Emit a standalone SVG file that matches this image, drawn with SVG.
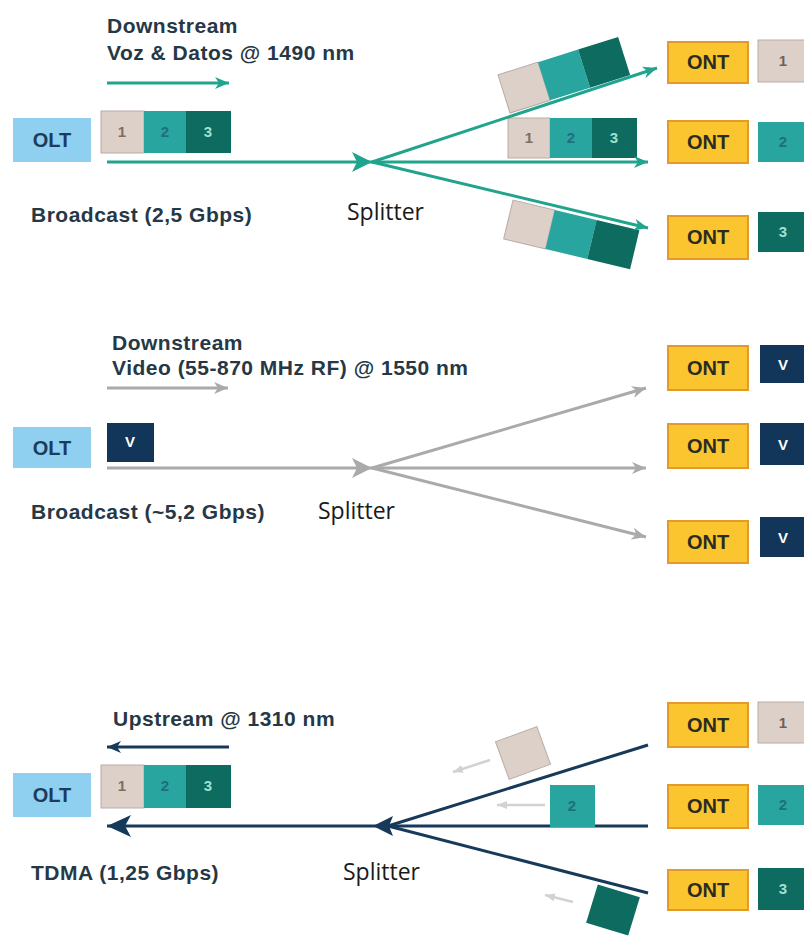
<svg xmlns="http://www.w3.org/2000/svg" width="804" height="937" viewBox="0 0 804 937">
<style>
.lbl{font-family:"Liberation Sans",Arial,sans-serif;font-weight:bold;font-size:21px;letter-spacing:0.5px;fill:#263845}
.spl{font-family:"Open Sans","Liberation Sans",sans-serif;font-size:23px;fill:#1a1a1a}
.olt{fill:#8fcff0}
.oltt{font-family:"Liberation Sans",Arial,sans-serif;font-weight:bold;font-size:20px;fill:#1d3c5a;text-anchor:middle}
.ont{fill:#fbc52f;stroke:#e39a2c;stroke-width:2}
.ontt{font-family:"Liberation Sans",Arial,sans-serif;font-weight:bold;font-size:20px;fill:#2b2b22;text-anchor:middle}
.p1{fill:#ddd0c9;stroke:#b9aca5;stroke-width:1}
.p2{fill:#28a59e}
.p3{fill:#0d6b60}
.pv{fill:#12365a}
.num{font-family:"Liberation Sans",Arial,sans-serif;font-size:15px;font-weight:bold;text-anchor:middle}
.teal{stroke:#20a48e;stroke-width:3;fill:none}
.gray{stroke:#aaaaaa;stroke-width:3;fill:none}
.navy{stroke:#173a5a;stroke-width:3;fill:none}
.faint{stroke:#d2d2d2;stroke-width:2.5;fill:none}
</style>
<defs>
<marker id="aT" markerUnits="userSpaceOnUse" markerWidth="14" markerHeight="12" refX="14" refY="6" orient="auto"><path d="M0,0 L14,6 L0,12 L4,6 z" fill="#20a48e"/></marker>
<marker id="aG" markerUnits="userSpaceOnUse" markerWidth="14" markerHeight="12" refX="14" refY="6" orient="auto"><path d="M0,0 L14,6 L0,12 L4,6 z" fill="#aaaaaa"/></marker>
<marker id="aN" markerUnits="userSpaceOnUse" markerWidth="14" markerHeight="12" refX="14" refY="6" orient="auto"><path d="M0,0 L14,6 L0,12 L4,6 z" fill="#173a5a"/></marker>
<marker id="aNb" markerUnits="userSpaceOnUse" markerWidth="24" markerHeight="22" refX="24" refY="11" orient="auto"><path d="M0,0 L24,11 L0,22 L6,11 z" fill="#173a5a"/></marker>
<marker id="aF" markerUnits="userSpaceOnUse" markerWidth="10" markerHeight="8" refX="10" refY="4" orient="auto"><path d="M0,0 L10,4 L0,8 z" fill="#d2d2d2"/></marker>
</defs>
<rect width="804" height="937" fill="#ffffff"/>

<!-- ===== Section 1: Downstream voz & datos ===== -->
<g id="s1-labels">
<text class="lbl" x="107" y="33">Downstream</text>
<text class="lbl" x="107" y="60">Voz &amp; Datos @ 1490 nm</text>
<text class="lbl" x="31" y="222">Broadcast (2,5 Gbps)</text>
<text class="spl" x="347" y="220">Splitter</text>
</g>
<g id="s1-olt"><rect class="olt" x="13" y="118" width="78" height="44"/><text class="oltt" x="52" y="147">OLT</text></g>
<g id="s1-packets">
<rect class="p1" x="101" y="111" width="43" height="42"/><text class="num" x="122" y="137" fill="#7d6e66">1</text>
<rect class="p2" x="144" y="111" width="42" height="42"/><text class="num" x="165" y="137" fill="#1f6f7e">2</text>
<rect class="p3" x="186" y="111" width="45" height="42"/><text class="num" x="208" y="137" fill="#9fe0d4">3</text>
</g>
<g id="s1-packets-up" transform="translate(510,113) rotate(-17.5)">
<rect class="p1" x="0" y="-40" width="42" height="40"/>
<rect class="p2" x="42" y="-40" width="42" height="40"/>
<rect class="p3" x="84" y="-40" width="42" height="40"/>
</g>
<g id="s1-packets-mid">
<rect class="p1" x="508" y="118" width="42" height="40"/><text class="num" x="529" y="143" fill="#7d6e66">1</text>
<rect class="p2" x="550" y="118" width="42" height="40"/><text class="num" x="571" y="143" fill="#1f6f7e">2</text>
<rect class="p3" x="592" y="118" width="45" height="40"/><text class="num" x="614" y="143" fill="#9fe0d4">3</text>
</g>
<g id="s1-packets-low" transform="translate(513,200) rotate(13.5)">
<rect class="p1" x="0" y="0" width="43" height="40"/>
<rect class="p2" x="43" y="0" width="43" height="40"/>
<rect class="p3" x="86" y="0" width="44" height="40"/>
</g>
<g id="s1-connectors">
<line class="teal" x1="107" y1="83" x2="229" y2="83" marker-end="url(#aT)" stroke-width="2.5"/>
<line class="teal" x1="107" y1="162" x2="372" y2="162"/>
<polygon points="352,152 372,162 352,172 357,162" fill="#20a48e"/>
<line class="teal" x1="372" y1="162" x2="657" y2="68" marker-end="url(#aT)"/>
<line class="teal" x1="372" y1="162" x2="648" y2="162" marker-end="url(#aT)"/>
<line class="teal" x1="372" y1="162" x2="648" y2="228" marker-end="url(#aT)"/>
</g>
<g id="s1-ont1"><rect class="ont" x="668" y="42" width="80" height="41"/><text class="ontt" x="708" y="69">ONT</text>
<rect class="p1" x="758" y="40" width="50" height="42"/><text class="num" x="783" y="66" fill="#6e605a">1</text></g>
<g id="s1-ont2"><rect class="ont" x="668" y="121" width="80" height="42"/><text class="ontt" x="708" y="149">ONT</text>
<rect class="p2" x="758" y="122" width="50" height="40"/><text class="num" x="783" y="147" fill="#1f6f7e">2</text></g>
<g id="s1-ont3"><rect class="ont" x="668" y="216" width="80" height="43"/><text class="ontt" x="708" y="244">ONT</text>
<rect class="p3" x="758" y="212" width="50" height="40"/><text class="num" x="783" y="237" fill="#9fe0d4">3</text></g>

<!-- ===== Section 2: Downstream video ===== -->
<g id="s2-labels">
<text class="lbl" x="112" y="350">Downstream</text>
<text class="lbl" x="112" y="375">Video (55-870 MHz RF) @ 1550 nm</text>
<text class="lbl" x="31" y="519">Broadcast (~5,2 Gbps)</text>
<text class="spl" x="318" y="519">Splitter</text>
</g>
<g id="s2-olt"><rect class="olt" x="13" y="427" width="78" height="41"/><text class="oltt" x="52" y="455">OLT</text></g>
<g id="s2-v"><rect class="pv" x="107" y="423" width="47" height="39"/><text class="num" x="130" y="447" fill="#ffffff">V</text></g>
<g id="s2-connectors">
<line class="gray" x1="107" y1="388" x2="228" y2="388" marker-end="url(#aG)" stroke-width="2.5"/>
<line class="gray" x1="107" y1="468" x2="372" y2="468"/>
<polygon points="352,458 372,468 352,478 357,468" fill="#aaaaaa"/>
<line class="gray" x1="372" y1="468" x2="646" y2="388" marker-end="url(#aG)"/>
<line class="gray" x1="372" y1="468" x2="646" y2="468" marker-end="url(#aG)"/>
<line class="gray" x1="372" y1="468" x2="646" y2="537" marker-end="url(#aG)"/>
</g>
<g id="s2-ont1"><rect class="ont" x="668" y="346" width="80" height="44"/><text class="ontt" x="708" y="375">ONT</text>
<rect class="pv" x="760" y="345" width="48" height="38"/><text class="num" x="783" y="370" fill="#ffffff">V</text></g>
<g id="s2-ont2"><rect class="ont" x="668" y="424" width="80" height="44"/><text class="ontt" x="708" y="453">ONT</text>
<rect class="pv" x="760" y="423" width="48" height="42"/><text class="num" x="783" y="450" fill="#ffffff">V</text></g>
<g id="s2-ont3"><rect class="ont" x="668" y="521" width="80" height="42"/><text class="ontt" x="708" y="549">ONT</text>
<rect class="pv" x="760" y="517" width="48" height="40"/><text class="num" x="783" y="543" fill="#ffffff">V</text></g>

<!-- ===== Section 3: Upstream ===== -->
<g id="s3-labels">
<text class="lbl" x="113" y="726">Upstream @ 1310 nm</text>
<text class="lbl" x="31" y="880">TDMA (1,25 Gbps)</text>
<text class="spl" x="343" y="880">Splitter</text>
</g>
<g id="s3-olt"><rect class="olt" x="13" y="773" width="78" height="44"/><text class="oltt" x="52" y="802">OLT</text></g>
<g id="s3-packets">
<rect class="p1" x="101" y="765" width="43" height="43"/><text class="num" x="122" y="791" fill="#7d6e66">1</text>
<rect class="p2" x="144" y="765" width="42" height="43"/><text class="num" x="165" y="791" fill="#1f6f7e">2</text>
<rect class="p3" x="186" y="765" width="45" height="43"/><text class="num" x="208" y="791" fill="#9fe0d4">3</text>
</g>
<g id="s3-connectors">
<line class="navy" x1="229" y1="747" x2="107" y2="747" marker-end="url(#aN)" stroke-width="2.5"/>
<line class="navy" x1="380" y1="826" x2="107" y2="826" marker-end="url(#aNb)"/>
<polygon points="373,826 393,816 389,826 393,836" fill="#173a5a"/>
<line class="navy" x1="388" y1="826" x2="648" y2="745"/>
<line class="navy" x1="388" y1="826" x2="648" y2="826"/>
<line class="navy" x1="388" y1="826" x2="648" y2="893"/>
<line class="faint" x1="490" y1="760" x2="453" y2="772" marker-end="url(#aF)"/>
<line class="faint" x1="545" y1="805" x2="497" y2="805" marker-end="url(#aF)"/>
<line class="faint" x1="573" y1="902" x2="545" y2="895" marker-end="url(#aF)"/>
</g>
<g id="s3-pkt1" transform="translate(523,753) rotate(-20)"><rect class="p1" x="-22" y="-20" width="44" height="40"/></g>
<g id="s3-pkt2"><rect class="p2" x="550" y="785" width="45" height="42"/><text class="num" x="572" y="811" fill="#1f6f7e">2</text></g>
<g id="s3-pkt3" transform="translate(613,910) rotate(17)"><rect class="p3" x="-22" y="-20" width="44" height="40"/></g>
<g id="s3-ont1"><rect class="ont" x="668" y="703" width="80" height="44"/><text class="ontt" x="708" y="732">ONT</text>
<rect class="p1" x="758" y="702" width="50" height="41"/><text class="num" x="783" y="728" fill="#6e605a">1</text></g>
<g id="s3-ont2"><rect class="ont" x="668" y="785" width="80" height="43"/><text class="ontt" x="708" y="813">ONT</text>
<rect class="p2" x="758" y="785" width="50" height="40"/><text class="num" x="783" y="810" fill="#1f6f7e">2</text></g>
<g id="s3-ont3"><rect class="ont" x="668" y="870" width="80" height="40" stroke="none"/><text class="ontt" x="708" y="897">ONT</text>
<rect class="p3" x="758" y="868" width="50" height="42"/><text class="num" x="783" y="894" fill="#9fe0d4">3</text></g>
</svg>
